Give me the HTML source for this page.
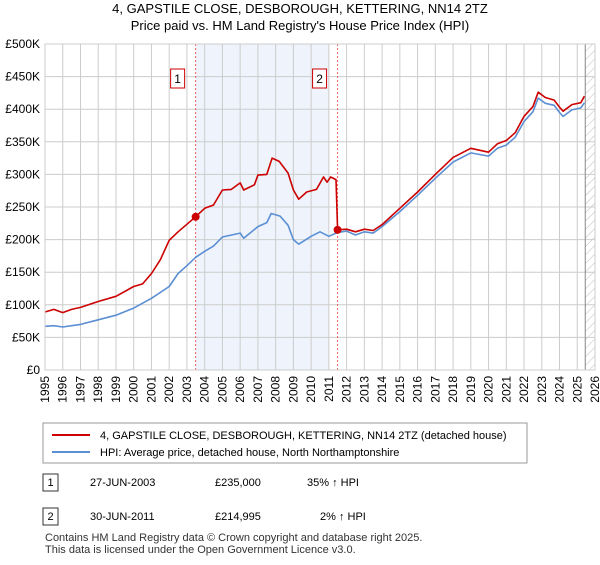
<!DOCTYPE html>
<html><head><meta charset="utf-8"><style>
body{margin:0;background:#fff;font-family:"Liberation Sans",sans-serif;}
svg text{font-family:"Liberation Sans",sans-serif;}
</style></head><body>
<svg id="chart" width="600" height="560" xmlns="http://www.w3.org/2000/svg">
<defs><pattern id="hatch" width="6" height="6" patternUnits="userSpaceOnUse" patternTransform="rotate(45)"><line x1="0" y1="0" x2="0" y2="6" stroke="#bbb" stroke-width="1"/></pattern></defs>
<text x="300" y="13" text-anchor="middle" font-size="13">4, GAPSTILE CLOSE, DESBOROUGH, KETTERING, NN14 2TZ</text>
<text x="300" y="30" text-anchor="middle" font-size="13">Price paid vs. HM Land Registry's House Price Index (HPI)</text>
<g id="plot"></g>
<g>
<rect x="43" y="423" width="484" height="40" fill="#fff" stroke="#999"/>
<line x1="52" y1="435" x2="90" y2="435" stroke="#cc0000" stroke-width="2"/>
<text x="100" y="439" font-size="11">4, GAPSTILE CLOSE, DESBOROUGH, KETTERING, NN14 2TZ (detached house)</text>
<line x1="52" y1="452" x2="90" y2="452" stroke="#5b8fd4" stroke-width="2"/>
<text x="100" y="456" font-size="11">HPI: Average price, detached house, North Northamptonshire</text>
</g>
<g font-size="11">
<rect x="43" y="474" width="15" height="17" fill="#fff" stroke="#333"/><text x="50.5" y="486" text-anchor="middle">1</text>
<text x="90" y="486">27-JUN-2003</text><text x="215" y="486">£235,000</text><text x="307" y="486">35% ↑ HPI</text>
<rect x="43" y="508" width="15" height="17" fill="#fff" stroke="#333"/><text x="50.5" y="520" text-anchor="middle">2</text>
<text x="90" y="520">30-JUN-2011</text><text x="215" y="520">£214,995</text><text x="320" y="520">2% ↑ HPI</text>
</g>
<text x="45" y="541" font-size="11" fill="#333">Contains HM Land Registry data © Crown copyright and database right 2025.</text>
<text x="45" y="553" font-size="11" fill="#333">This data is licensed under the Open Government Licence v3.0.</text>
</svg>
<script>
const hpiYears=[1995,1995.5,1996,1996.5,1997,1998,1999,2000,2001,2002,2002.5,2003,2003.5,2004,2004.5,2005,2006,2006.2,2007,2007.5,2007.75,2008.25,2008.7,2009,2009.3,2010,2010.5,2011,2011.5,2012,2012.5,2013,2013.5,2014,2015,2016,2017,2018,2019,2020,2020.5,2021,2021.5,2022,2022.5,2022.8,2023.2,2023.7,2024,2024.2,2024.7,2025.2,2025.4];
const hpiValues=[67,68,66,68,70,77,84,95,110,128,148,160,173,182,190,204,210,202,220,226,240,236,222,200,193,205,212,205,211,213,207,212,210,220,243,268,294,319,333,328,340,345,357,381,396,417,409,406,395,389,399,402,410];
const paidYears=[1995,1995.5,1996,1996.5,1997,1998,1999,2000,2000.5,2001,2001.5,2002,2002.5,2003.49,2004,2004.5,2005,2005.5,2006,2006.2,2006.8,2007,2007.5,2007.8,2008.2,2008.7,2009,2009.3,2009.75,2010.3,2010.7,2010.9,2011.1,2011.4,2011.49,2012,2012.5,2013,2013.5,2014,2015,2016,2017,2018,2019,2020,2020.5,2021,2021.5,2022,2022.5,2022.8,2023.2,2023.7,2024,2024.2,2024.7,2025.2,2025.4];
const paidValues=[89,93,88,93,96,105,113,128,132,148,169,199,212,235,248,253,276,277,287,276,284,299,300,325,320,302,276,262,273,277,296,288,296,292,215,216,212,216,214,223,248,273,300,326,340,334,347,352,364,389,404,426,418,414,403,397,407,410,420];
const sales=[{n:"1",t:2003.49,v:235},{n:"2",t:2011.49,v:214.995}];
const yTicks=[0,50,100,150,200,250,300,350,400,450,500];
const yTickLabels=["£0","£50K","£100K","£150K","£200K","£250K","£300K","£350K","£400K","£450K","£500K"];
const xTicks=[];for(let y=1995;y<=2026;y++)xTicks.push(y);
const X0=45,X1=595,Y0=370,Y1=44;
const xs=t=>X0+(t-1995)/(2026-1995)*(X1-X0);
const ys=v=>Y0-v/500*(Y0-Y1);
const NS="http://www.w3.org/2000/svg";
const g=document.getElementById('plot');
function mk(tag,attrs){const e=document.createElementNS(NS,tag);for(const k in attrs)e.setAttribute(k,attrs[k]);g.appendChild(e);return e;}
let e;
e=mk('rect',{x:xs(2003.49),y:Y1,width:xs(2011.0)-xs(2003.49),height:Y0-Y1,fill:'#eef3fc'});


e=mk('rect',{x:xs(2025.45),y:Y1,width:X1-xs(2025.45),height:Y0-Y1,fill:'url(#hatch)'});


xTicks.forEach(t=>{
 e=mk('line',{x1:xs(t),x2:xs(t),y1:Y1,y2:Y0,stroke:'#ccc'});
 
 
 e=mk('text',{x:0,y:0,'font-size':12,'text-anchor':'end',transform:`translate(${xs(t)+4},${Y0+6}) rotate(-90)`});
 e.textContent=t;
 
 
});
yTicks.forEach((v,i)=>{
 e=mk('line',{x1:X0,x2:X1,y1:ys(v),y2:ys(v),stroke:'#ccc'});
 
 
 e=mk('text',{x:X0-5,y:ys(v)+4,'font-size':12,'text-anchor':'end'});
 e.textContent=yTickLabels[i];
 
 
});
e=mk('line',{x1:xs(2025.45),x2:xs(2025.45),y1:Y1,y2:Y0,stroke:'#888'});


sales.forEach(s=>{
 e=mk('line',{x1:xs(s.t),x2:xs(s.t),y1:Y1,y2:Y0,stroke:'#f06060','stroke-dasharray':'2,2'});
 
 
});
function path(xa,va,col,name){
 const d=xa.map((t,i)=>(i?'L':'M')+xs(t).toFixed(1)+','+ys(va[i]).toFixed(1)).join('');
 e=mk('path',{d:d,fill:'none',stroke:col,'stroke-width':1.6,'stroke-linejoin':'round'});
 
 
}
path(hpiYears,hpiValues,'#5b8fd4','hpi-line');
path(paidYears,paidValues,'#cc0000','price-paid-line');
sales.forEach(s=>{
 e=mk('circle',{cx:xs(s.t),cy:ys(s.v),r:4,fill:'#cc0000'});
 
 
 const bx=xs(s.t)-18;
 e=mk('rect',{x:bx-7,y:69,width:14,height:19,fill:'#fff',stroke:'#cc0000'});
 
 
 e=mk('text',{x:bx,y:83,'font-size':12,'text-anchor':'middle'});
 e.textContent=s.n;
 
 
});
e=mk('rect',{x:X0,y:Y1,width:X1-X0,height:Y0-Y1,fill:'none',stroke:'#ccc'});


</script>
</body></html>
